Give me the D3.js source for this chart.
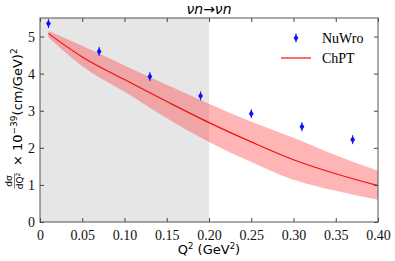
<!DOCTYPE html>
<html>
<head>
<meta charset="utf-8">
<script src="https://cdn.jsdelivr.net/npm/d3@7"></script>
<style>
  body { margin: 0; background: #fff; }
</style>
</head>
<body>
<script>
// data
var nuwroQ2 = [0.01, 0.07, 0.13, 0.19, 0.25, 0.31, 0.37];
var nuwroXs = [5.35, 4.60, 3.92, 3.40, 2.92, 2.57, 2.22];

var chptQ2    = [0.01, 0.05, 0.10, 0.15, 0.20, 0.25, 0.30, 0.35, 0.40];
var chptXs    = [5.08, 4.45, 3.84, 3.25, 2.68, 2.16, 1.68, 1.30, 0.98];
var chptUpper = [5.15, 4.75, 4.22, 3.70, 3.19, 2.70, 2.27, 1.80, 1.38];
var chptLower = [4.98, 4.20, 3.51, 2.80, 2.16, 1.62, 1.14, 0.84, 0.60];

var xTicks = [0, 0.05, 0.10, 0.15, 0.20, 0.25, 0.30, 0.35, 0.40];
var xTickLabels = ['0', '0.05', '0.10', '0.15', '0.20', '0.25', '0.30', '0.35', '0.40'];
var yTicks = [0, 1, 2, 3, 4, 5];
var shadedRange = [0, 0.20];

var W = 395, H = 261;
var m = {left: 40, right: 17, top: 18, bottom: 39};
var serif = '"Liberation Serif", "Times New Roman", serif';
var sans = '"DejaVu Sans", sans-serif';

var svg = d3.select('body').append('svg')
    .attr('width', W).attr('height', H);

var x = d3.scaleLinear().domain([0, 0.4]).range([m.left, W - m.right]);
var y = d3.scaleLinear().domain([0, 5.5]).range([H - m.bottom, m.top]);

// grey shaded zone
svg.append('rect')
    .attr('x', x(shadedRange[0])).attr('y', m.top)
    .attr('width', x(shadedRange[1]) - x(shadedRange[0]))
    .attr('height', y(0) - m.top)
    .attr('fill', '#e6e6e6');

var bandData = chptQ2.map(function(q, i){ return {q: q, lo: chptLower[i], hi: chptUpper[i], v: chptXs[i]}; });

svg.append('path')
    .datum(bandData)
    .attr('fill', 'rgba(255,60,60,0.38)')
    .attr('d', d3.area()
        .x(function(d){ return x(d.q); })
        .y0(function(d){ return y(d.lo); })
        .y1(function(d){ return y(d.hi); })
        .curve(d3.curveMonotoneX));

svg.append('path')
    .datum(bandData)
    .attr('fill', 'none').attr('stroke', '#ee1111').attr('stroke-width', 1.2)
    .attr('d', d3.line()
        .x(function(d){ return x(d.q); })
        .y(function(d){ return y(d.v); })
        .curve(d3.curveMonotoneX));

// NuWro diamonds with tiny error bars
var diamond = 'M0,-3.6L2.4,0L0,3.6L-2.4,0Z';
var pts = svg.append('g').selectAll('g')
    .data(nuwroQ2.map(function(q, i){ return [q, nuwroXs[i]]; }))
    .join('g')
    .attr('transform', function(d){ return 'translate(' + x(d[0]) + ',' + y(d[1]) + ')'; });
pts.append('line').attr('y1', -4.5).attr('y2', 4.5).attr('stroke', '#1010ff').attr('stroke-width', 1);
pts.append('path').attr('d', diamond).attr('fill', '#1010ff');

// axes, ticks inward on all four sides
function styleAxis(g){
    g.select('.domain').remove();
    g.selectAll('.tick line').attr('stroke', '#444');
    g.selectAll('.tick text')
        .style('font-family', serif).style('font-size', '14px').attr('fill', '#111');
}
svg.append('g').attr('transform', 'translate(0,' + y(0) + ')')
    .call(d3.axisBottom(x).tickValues(xTicks).tickSize(-4).tickPadding(8)
        .tickFormat(function(d, i){ return xTickLabels[i]; }))
    .call(styleAxis);
svg.append('g').attr('transform', 'translate(0,' + m.top + ')')
    .call(d3.axisTop(x).tickValues(xTicks).tickSize(-4).tickFormat(''))
    .call(styleAxis);
svg.append('g').attr('transform', 'translate(' + m.left + ',0)')
    .call(d3.axisLeft(y).tickValues(yTicks).tickSize(-4).tickPadding(5).tickFormat(d3.format('d')))
    .call(styleAxis);
svg.append('g').attr('transform', 'translate(' + (W - m.right) + ',0)')
    .call(d3.axisRight(y).tickValues(yTicks).tickSize(-4).tickFormat(''))
    .call(styleAxis);

svg.append('rect')
    .attr('x', m.left).attr('y', m.top)
    .attr('width', W - m.right - m.left).attr('height', y(0) - m.top)
    .attr('fill', 'none').attr('stroke', '#555').attr('stroke-width', 1);

// title
svg.append('text')
    .attr('x', x(0.2)).attr('y', 14)
    .attr('text-anchor', 'middle')
    .style('font-family', sans).style('font-size', '14px').style('font-style', 'italic')
    .text('νn→νn');

// x label
var xl = svg.append('text')
    .attr('x', x(0.2)).attr('y', 254)
    .attr('text-anchor', 'middle')
    .style('font-family', sans).style('font-size', '13px');
xl.append('tspan').text('Q');
xl.append('tspan').attr('dy', -5).style('font-size', '8.5px').text('2');
xl.append('tspan').attr('dy', 5).text(' (GeV');
xl.append('tspan').attr('dy', -5).style('font-size', '8.5px').text('2');
xl.append('tspan').attr('dy', 5).text(')');

// y label (rotated)
var yg = svg.append('g').attr('transform', 'translate(22,0) rotate(-90)');
var yl = yg.append('text')
    .attr('x', -166).attr('y', 0)
    .attr('text-anchor', 'start')
    .style('font-family', sans).style('font-size', '13px');
yl.append('tspan').text('× 10');
yl.append('tspan').attr('dy', -5).style('font-size', '9px').text('−39');
yl.append('tspan').attr('dy', 5).text('(cm/GeV)');
yl.append('tspan').attr('dy', -5).style('font-size', '9px').text('2');

// fraction dσ / dQ²
var fr = yg.append('g').attr('transform', 'translate(-181,-7)');
fr.append('text').attr('x', 0).attr('y', -3).attr('text-anchor', 'middle')
    .style('font-family', sans).style('font-size', '9px').text('dσ');
fr.append('line').attr('x1', -7.5).attr('x2', 7.5).attr('y1', -0.5).attr('y2', -0.5).attr('stroke', '#222').attr('stroke-width', 0.6);
var den = fr.append('text').attr('x', 0).attr('y', 7.5).attr('text-anchor', 'middle')
    .style('font-family', sans).style('font-size', '9px');
den.append('tspan').text('dQ');
den.append('tspan').attr('dy', -3).style('font-size', '6px').text('2');

// legend
var lg = svg.append('g');
lg.append('path').attr('d', diamond).attr('fill', '#1010ff').attr('transform', 'translate(296,38)');
lg.append('line').attr('x1', 296).attr('x2', 296).attr('y1', 33.5).attr('y2', 42.5).attr('stroke', '#1010ff');
lg.append('line').attr('x1', 281).attr('x2', 311).attr('y1', 58).attr('y2', 58).attr('stroke', '#ee1111').attr('stroke-width', 1.2);
lg.append('text').attr('x', 322).attr('y', 43)
    .style('font-family', serif).style('font-size', '14px').text('NuWro');
lg.append('text').attr('x', 322).attr('y', 63)
    .style('font-family', serif).style('font-size', '14px').text('ChPT');
</script>
</body>
</html>
